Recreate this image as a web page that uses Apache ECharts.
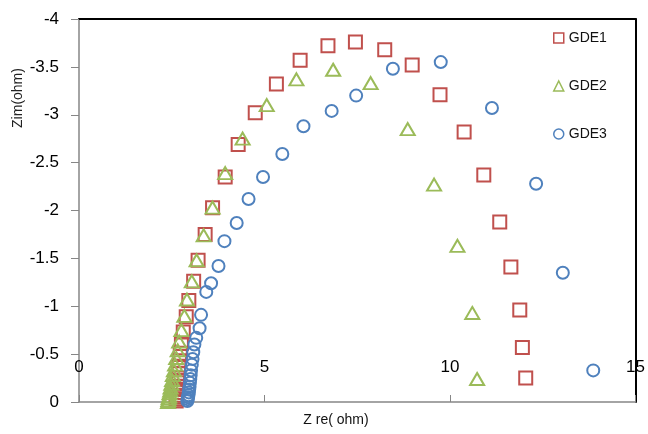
<!DOCTYPE html>
<html>
<head>
	<meta charset="utf-8">
	<title>Nyquist GDE</title>
	<style>
		html,body{margin:0;padding:0;background:#fff;}
		#chart{width:648px;height:434px;}
	</style>
</head>
<body>
<div id="chart"></div>
<script type="text/javascript" src="https://cdn.jsdelivr.net/npm/echarts/dist/echarts.min.js"></script>
<script>
// values (Z re, Zim in ohm)
var names = ['GDE1', 'GDE2', 'GDE3'];
var colors = ['#C0504D', '#9BBB59', '#4F81BD'];
var symbols = ['rect', 'triangle', 'circle'];

var gde1X = [12.04, 11.95, 11.88, 11.64, 11.34, 10.91, 10.38, 9.73, 8.98, 8.24, 7.45, 6.71, 5.96, 5.32, 4.75, 4.29, 3.94, 3.60, 3.40, 3.21, 3.09, 2.96, 2.89, 2.81, 2.76,
	2.73, 2.71, 2.69, 2.68, 2.67, 2.66, 2.65, 2.64, 2.64, 2.63, 2.63, 2.62, 2.62];
var gde1Y = [-0.25, -0.57, -0.96, -1.41, -1.88, -2.37, -2.82, -3.21, -3.52, -3.68, -3.76, -3.72, -3.57, -3.32, -3.02, -2.69, -2.35, -2.03, -1.75, -1.48, -1.26, -1.06, -0.89, -0.73, -0.61,
	-0.51, -0.43, -0.36, -0.30, -0.25, -0.20, -0.16, -0.13, -0.10, -0.07, -0.05, -0.03, -0.01];

var gde2X = [10.73, 10.60, 10.20, 9.57, 8.86, 7.86, 6.85, 5.86, 5.06, 4.41, 3.94, 3.60, 3.36, 3.17, 3.04, 2.91, 2.84, 2.76,
	2.70, 2.66, 2.62, 2.59, 2.56, 2.53, 2.51, 2.49, 2.47, 2.46, 2.44, 2.43, 2.42, 2.41, 2.40];
var gde2Y = [-0.24, -0.93, -1.63, -2.27, -2.85, -3.33, -3.47, -3.37, -3.10, -2.75, -2.39, -2.03, -1.74, -1.48, -1.26, -1.07, -0.90, -0.75,
	-0.63, -0.54, -0.46, -0.39, -0.33, -0.28, -0.23, -0.19, -0.15, -0.12, -0.09, -0.06, -0.04, -0.02, 0];

var gde3X = [13.86, 13.04, 12.32, 11.13, 9.75, 8.46, 7.47, 6.81, 6.05, 5.48, 4.96, 4.57, 4.25, 3.92, 3.76, 3.56, 3.43, 3.29, 3.25, 3.16, 3.11,
	3.08, 3.06, 3.04, 3.02, 3.01, 3.00, 2.99, 2.98, 2.97, 2.96, 2.95, 2.94, 2.93, 2.92];
var gde3Y = [-0.33, -1.35, -2.28, -3.07, -3.55, -3.48, -3.20, -3.04, -2.88, -2.59, -2.35, -2.12, -1.87, -1.68, -1.42, -1.24, -1.15, -0.91, -0.77, -0.67, -0.60,
	-0.52, -0.45, -0.39, -0.33, -0.28, -0.24, -0.20, -0.16, -0.13, -0.10, -0.07, -0.05, -0.03, -0.01];

var xTicks = [0, 5, 10, 15];
var yTicks = [0, -0.5, -1, -1.5, -2, -2.5, -3, -3.5, -4];

var xs = [gde1X, gde2X, gde3X];
var ys = [gde1Y, gde2Y, gde3Y];

function pairs(a, b){
	var out = [];
	for(var i = 0; i < a.length; i++){
		out.push([a[i], b[i]]);
	}
	return out;
}

var myChart = echarts.init(document.getElementById('chart'), null, {renderer: 'canvas'});
var fontName = '"Liberation Sans", Arial, sans-serif';

var series = [];
for(var k = 0; k < names.length; k++){
	series.push({
		name: names[k],
		type: 'scatter',
		symbol: symbols[k],
		symbolSize: k == 1 ? [14, 12] : (k == 0 ? 13 : 12),
		itemStyle: {
			color: 'rgba(255,255,255,0)',
			borderColor: colors[k],
			borderWidth: 2,
			opacity: 1
		},
		data: pairs(xs[k], ys[k])
	});
}

var option = {
	backgroundColor: '#fff',
	animation: false,
	textStyle: {fontFamily: fontName},
	grid: {left: 79, right: 10, top: 19, bottom: 32},
	legend: {
		orient: 'vertical',
		left: 548,
		top: 26,
		itemWidth: 10,
		itemHeight: 10,
		itemGap: 34,
		textStyle: {fontSize: 14, color: '#111', fontFamily: fontName},
		data: names.map(function(n, i){
			return {name: n, icon: symbols[i], itemStyle: {color: 'rgba(255,255,255,0)', borderColor: colors[i], borderWidth: 1.5}};
		})
	},
	xAxis: [{
		type: 'value',
		min: xTicks[0],
		max: xTicks[xTicks.length - 1],
		interval: 5,
		axisLine: {onZero: false, lineStyle: {color: '#868686', width: 1.5}},
		axisTick: {show: true, inside: true, length: 7, lineStyle: {color: '#868686'}},
		axisLabel: {margin: -43, fontSize: 17, color: '#000', fontFamily: fontName},
		splitLine: {show: false}
	}, {
		type: 'value',
		position: 'top',
		min: xTicks[0],
		max: xTicks[xTicks.length - 1],
		axisLine: {onZero: false, lineStyle: {color: '#000', width: 2}},
		axisTick: {show: false},
		axisLabel: {show: false},
		splitLine: {show: false}
	}],
	yAxis: [{
		type: 'value',
		inverse: true,
		min: yTicks[yTicks.length - 1],
		max: yTicks[0],
		interval: 0.5,
		axisLine: {show: true, onZero: false, lineStyle: {color: '#868686', width: 1.5}},
		axisTick: {show: true, length: 8, lineStyle: {color: '#868686'}},
		axisLabel: {margin: 20, fontSize: 17, color: '#000', fontFamily: fontName},
		splitLine: {show: false}
	}, {
		type: 'value',
		position: 'right',
		inverse: true,
		min: yTicks[yTicks.length - 1],
		max: yTicks[0],
		axisLine: {show: true, onZero: false, lineStyle: {color: '#000', width: 2}},
		axisTick: {show: false},
		axisLabel: {show: false},
		splitLine: {show: false}
	}],
	graphic: [{
		type: 'text',
		x: 18,
		y: 98,
		rotation: Math.PI / 2,
		style: {text: 'Zim(ohm)', fontSize: 14, fill: '#222', fontFamily: fontName, align: 'center', verticalAlign: 'middle'}
	}, {
		type: 'text',
		x: 336,
		y: 420,
		style: {text: 'Z re( ohm)', fontSize: 14, fill: '#111', fontFamily: fontName, align: 'center', verticalAlign: 'middle'}
	}],
	series: series
};
myChart.setOption(option);
</script>
</body>
</html>
